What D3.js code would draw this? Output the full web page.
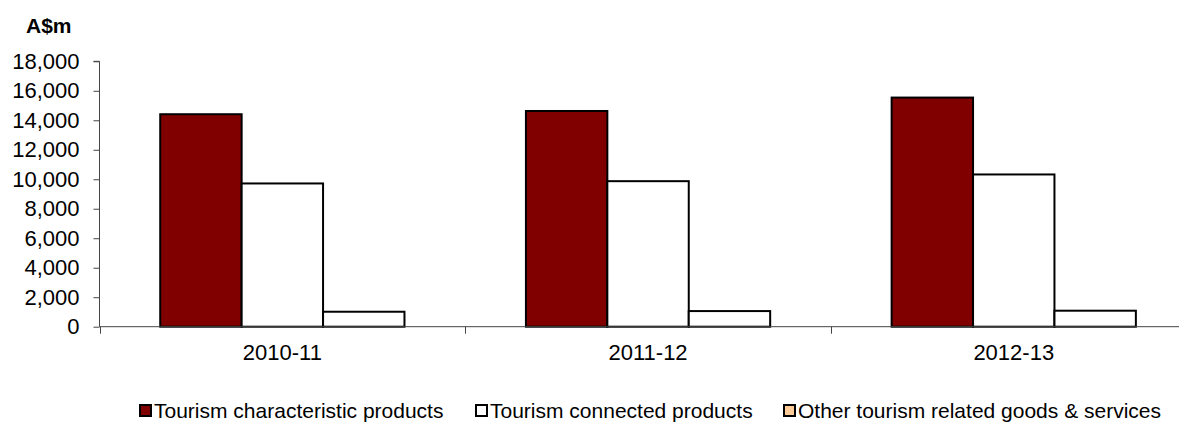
<!DOCTYPE html>
<html><head><meta charset="utf-8">
<script src="https://cdn.jsdelivr.net/npm/d3@7"></script>
<style>body{margin:0;background:#fff}svg{display:block}text{font-family:"Liberation Sans",Arial,sans-serif}</style>
</head><body><svg id="c" width="1179" height="427"></svg>
<script>
const categories = ["2010-11", "2011-12", "2012-13"];
const seriesNames = ["Tourism characteristic products", "Tourism connected products", "Other tourism related goods & services"];
const characteristic = [14410, 14630, 15540];
const connected = [9715, 9870, 10325];
const otherRelated = [1015, 1060, 1085];
const yTicks = [0, 2000, 4000, 6000, 8000, 10000, 12000, 14000, 16000, 18000];
const barFills = ["#800000", "#ffffff", "#ffffff"];
const legendFills = ["#800000", "#ffffff", "#ffcc99"];

const seriesValues = [characteristic, connected, otherRelated];
const svg = d3.select("#c");
const plotLeft = 99.5, plotBottom = 326.7, plotTop = 61.3, bandStep = 365.7;

const y = d3.scaleLinear().domain([0, 18000]).range([plotBottom, plotTop]);
const x0 = d3.scaleBand().domain(categories).range([plotLeft, plotLeft + bandStep * categories.length]).paddingInner(0).paddingOuter(0);
const x1 = d3.scaleBand().domain(d3.range(seriesNames.length)).range([0, x0.bandwidth()]).paddingInner(0).paddingOuter(0.746);

// bars
categories.forEach((c, ci) => {
  seriesValues.forEach((vals, si) => {
    svg.append("rect")
      .attr("x", x0(c) + x1(si))
      .attr("y", y(vals[ci]))
      .attr("width", x1.bandwidth())
      .attr("height", y(0) - y(vals[ci]))
      .attr("fill", barFills[si])
      .attr("stroke", "#000")
      .attr("stroke-width", 2);
  });
});

// y axis
const yAxis = d3.axisLeft(y).tickValues(yTicks).tickSize(6).tickPadding(14).tickFormat(d3.format(","));
const gy = svg.append("g").attr("transform", `translate(${plotLeft},0)`).call(yAxis);
gy.select(".domain").attr("stroke", "#444").attr("d", `M-6,${plotTop}H0V${plotBottom}`);
gy.selectAll(".tick line").attr("stroke", "#444");
gy.selectAll("text").attr("font-size", 22).attr("fill", "#000").attr("font-family", "Liberation Sans, Arial, sans-serif");

// x axis
const xAxis = d3.axisBottom(x0).tickSize(0).tickPadding(18);
const gx = svg.append("g").attr("transform", `translate(0,${plotBottom})`).call(xAxis);
gx.select(".domain").attr("stroke", "#444").attr("d", `M${plotLeft},0H1179`);
gx.selectAll("text").attr("font-size", 22).attr("fill", "#000").attr("font-family", "Liberation Sans, Arial, sans-serif");
const bounds = categories.map(c => x0(c));
gx.selectAll(".btick").data(bounds).enter().append("line")
  .attr("x1", d => Math.round(d) + 0.5).attr("x2", d => Math.round(d) + 0.5)
  .attr("y1", 0).attr("y2", 7).attr("stroke", "#444");

// unit label
svg.append("text").attr("x", 26).attr("y", 33).attr("font-size", 21).attr("font-weight", "bold").text("A$m");

// legend
const legendX = [139, 475, 783];
seriesNames.forEach((s, i) => {
  svg.append("rect").attr("x", legendX[i] + 1).attr("y", 405).attr("width", 11).attr("height", 11)
    .attr("fill", legendFills[i]).attr("stroke", "#000").attr("stroke-width", 2);
  svg.append("text").attr("x", legendX[i] + 15).attr("y", 418).attr("font-size", 21).text(s);
});
</script></body></html>
